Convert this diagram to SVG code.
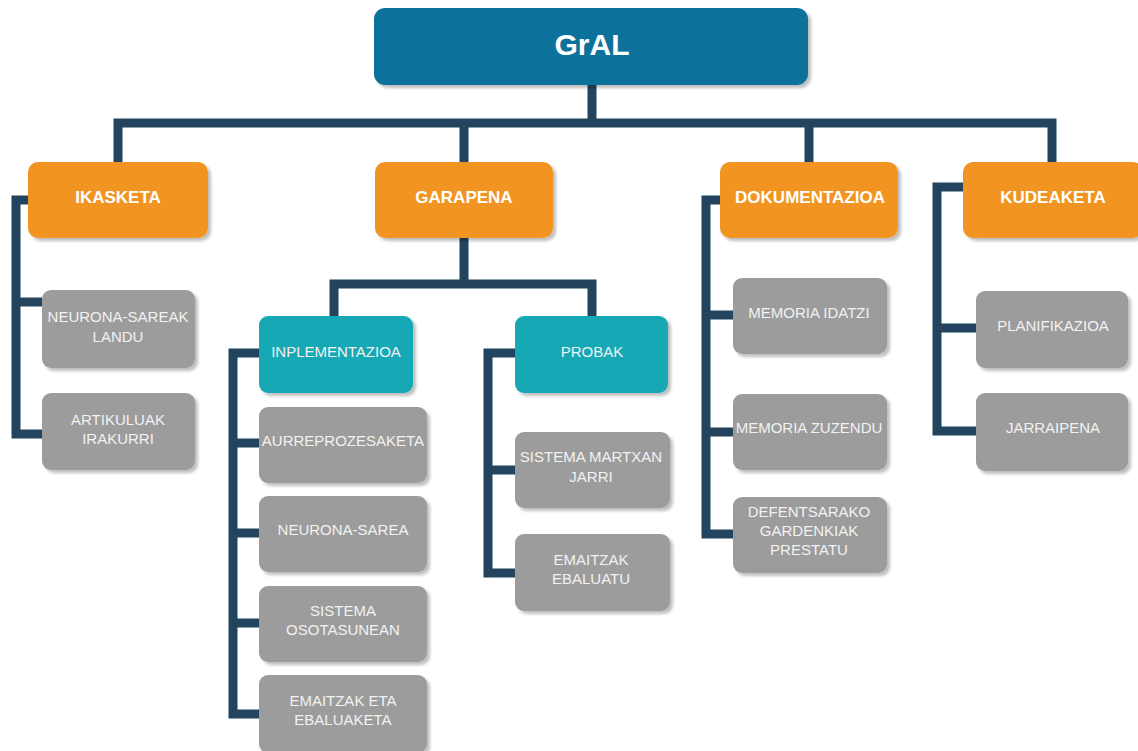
<svg xmlns="http://www.w3.org/2000/svg" width="1138" height="751" viewBox="0 0 1138 751">
<defs>
<filter id="sh" x="-10%" y="-10%" width="130%" height="130%">
<feDropShadow dx="3" dy="3" stdDeviation="1.5" flood-color="#000" flood-opacity="0.25"/>
</filter>
<style>
.root{fill:#11729b;filter:url(#sh)}
.or{fill:#f29420;filter:url(#sh)}
.tl{fill:#14a9b5;filter:url(#sh)}
.gr{fill:#9c9c9c;filter:url(#sh)}
.c{fill:none;stroke:#23445e;stroke-width:9}
.t{font-family:"Liberation Sans",Arial,sans-serif;fill:#ffffff;text-anchor:middle;dominant-baseline:middle}
.tb{font-weight:bold;font-size:17px}
.ts{font-size:15px;fill:#f2f2f2}
</style>
</defs>
<rect width="1138" height="751" fill="#ffffff"/>
<g id="connectors">
<path class="c" d="M592 85 V123 M118 162 V123 H1052 V162 M464 123 V162 M809 123 V162"/>
<path class="c" d="M28 200 H16 V434 H42 M16 302 H42"/>
<path class="c" d="M464 238 V284 H334 V316 M464 284 H592 V316"/>
<path class="c" d="M259 353 H233 V714 H259 M233 443 H259 M233 533 H259 M233 623 H259"/>
<path class="c" d="M515 353 H488 V573 H515 M488 470 H515"/>
<path class="c" d="M720 200 H706 V534 H733 M706 315 H733 M706 432 H733"/>
<path class="c" d="M963 187 H937 V431 H976 M937 328 H976"/>
</g>
<g id="gral"><rect class="root" x="374" y="8" width="434" height="77" rx="11"/><text class="t" x="592" y="47" font-size="30" font-weight="bold">GrAL</text></g>
<g id="ikasketa"><rect class="or" x="28" y="162" width="180" height="76" rx="10"/><text class="t tb" x="118" y="199">IKASKETA</text></g>
<g id="garapena"><rect class="or" x="375" y="162" width="178" height="76" rx="10"/><text class="t tb" x="464" y="199">GARAPENA</text></g>
<g id="dokumentazioa"><rect class="or" x="720" y="162" width="178" height="76" rx="10"/><text class="t tb" x="810" y="199">DOKUMENTAZIOA</text></g>
<g id="kudeaketa"><rect class="or" x="963" y="162" width="180" height="76" rx="10"/><text class="t tb" x="1053" y="199">KUDEAKETA</text></g>
<g id="neurona-sareak-landu"><rect class="gr" x="42" y="290" width="153" height="78" rx="9"/><text class="t ts" x="118" y="318">NEURONA-SAREAK</text><text class="t ts" x="118" y="338">LANDU</text></g>
<g id="artikuluak-irakurri"><rect class="gr" x="42" y="393" width="153" height="77" rx="9"/><text class="t ts" x="118" y="421">ARTIKULUAK</text><text class="t ts" x="118" y="440">IRAKURRI</text></g>
<g id="inplementazioa"><rect class="tl" x="259" y="316" width="154" height="77" rx="9"/><text class="t ts" x="336" y="353">INPLEMENTAZIOA</text></g>
<g id="probak"><rect class="tl" x="515" y="316" width="153" height="77" rx="9"/><text class="t ts" x="592" y="353">PROBAK</text></g>
<g id="aurreprozesaketa"><rect class="gr" x="259" y="407" width="168" height="76" rx="9"/><text class="t ts" x="343" y="442">AURREPROZESAKETA</text></g>
<g id="neurona-sarea"><rect class="gr" x="259" y="496" width="168" height="76" rx="9"/><text class="t ts" x="343" y="531">NEURONA-SAREA</text></g>
<g id="sistema-osotasunean"><rect class="gr" x="259" y="586" width="168" height="76" rx="9"/><text class="t ts" x="343" y="612">SISTEMA</text><text class="t ts" x="343" y="631">OSOTASUNEAN</text></g>
<g id="emaitzak-eta-ebaluaketa"><rect class="gr" x="259" y="675" width="168" height="78" rx="9"/><text class="t ts" x="343" y="702">EMAITZAK ETA</text><text class="t ts" x="343" y="721">EBALUAKETA</text></g>
<g id="sistema-martxan-jarri"><rect class="gr" x="515" y="432" width="155" height="76" rx="9"/><text class="t ts" x="591" y="458">SISTEMA MARTXAN</text><text class="t ts" x="591" y="478">JARRI</text></g>
<g id="emaitzak-ebaluatu"><rect class="gr" x="515" y="534" width="155" height="77" rx="9"/><text class="t ts" x="591" y="561">EMAITZAK</text><text class="t ts" x="591" y="580">EBALUATU</text></g>
<g id="memoria-idatzi"><rect class="gr" x="733" y="278" width="154" height="76" rx="9"/><text class="t ts" x="809" y="314">MEMORIA IDATZI</text></g>
<g id="memoria-zuzendu"><rect class="gr" x="733" y="394" width="154" height="76" rx="9"/><text class="t ts" x="809" y="429">MEMORIA ZUZENDU</text></g>
<g id="defentsarako"><rect class="gr" x="733" y="497" width="154" height="76" rx="9"/><text class="t ts" x="809" y="513">DEFENTSARAKO</text><text class="t ts" x="809" y="532">GARDENKIAK</text><text class="t ts" x="809" y="551">PRESTATU</text></g>
<g id="planifikazioa"><rect class="gr" x="976" y="291" width="152" height="77" rx="9"/><text class="t ts" x="1053" y="327">PLANIFIKAZIOA</text></g>
<g id="jarraipena"><rect class="gr" x="976" y="393" width="152" height="78" rx="9"/><text class="t ts" x="1053" y="429">JARRAIPENA</text></g>
</svg>
